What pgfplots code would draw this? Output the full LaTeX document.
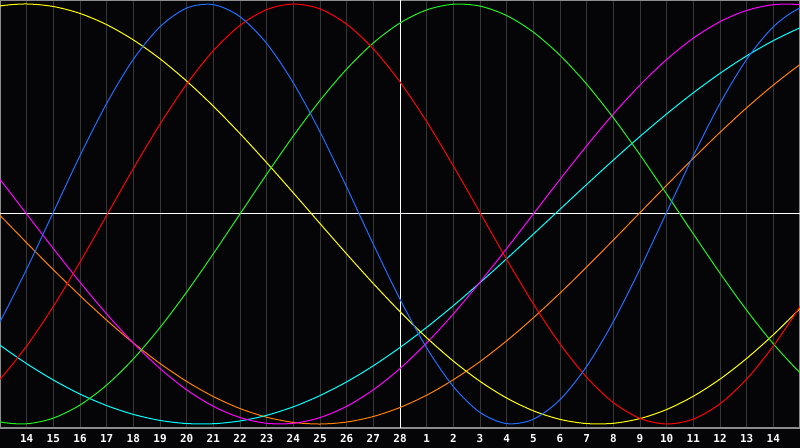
\documentclass[border=0pt]{standalone}
\usepackage{pgfplots}
\usepackage{pgfplotstable}
\pgfplotsset{compat=1.18}
\usepackage{fontspec}
\setmonofont{DejaVu Sans Mono}

\definecolor{bg}{HTML}{050508}
\definecolor{gridgray}{HTML}{363636}
\definecolor{framegray}{HTML}{8C8C8C}
\definecolor{cyellow}{HTML}{FFFF00}
\definecolor{cblue}{HTML}{1E6EFF}
\definecolor{cred}{HTML}{FF0000}
\definecolor{cgreen}{HTML}{22F01E}
\definecolor{cmagenta}{HTML}{FF00FF}
\definecolor{ccyan}{HTML}{00FFFF}
\definecolor{corange}{HTML}{FF8000}

% day index, 15 = today (white line)
\pgfplotstableread{
x  blue    red     green   magenta yellow  orange  cyan
-1 -0.7254 -0.9039 -0.9450  0.3247  0.9601  0.1240 -0.5278
0  -0.5124 -0.7860 -0.9898  0.1646  0.9906 -0.0065 -0.6245
1  -0.2619 -0.6288 -0.9989  0.0000  1.0000 -0.1370 -0.7126
2   0.0082 -0.4399 -0.9718 -0.1646  0.9880 -0.2651 -0.7904
3   0.2777 -0.2291 -0.9096 -0.3247  0.9550 -0.3887 -0.8575
4   0.5265 -0.0067 -0.8146 -0.4759  0.9017 -0.5057 -0.9123
5   0.7365  0.2160 -0.6901 -0.6142  0.8290 -0.6140 -0.9543
6   0.8916  0.4278 -0.5406 -0.7357  0.7390 -0.7118 -0.9829
7   0.9807  0.6183 -0.3717 -0.8372  0.6328 -0.7972 -0.9978
8   0.9971  0.7776 -0.1893 -0.9158  0.5134 -0.8693 -0.9986
9   0.9396  0.8980  0.0000 -0.9694  0.3830 -0.9264 -0.9855
10  0.8122  0.9734  0.1893 -0.9966  0.2445 -0.9676 -0.9585
11  0.6245  1.0000  0.3717 -0.9966  0.1007 -0.9923 -0.9180
12  0.3909  0.9764  0.5406 -0.9694 -0.0454 -1.0000 -0.8646
13  0.1281  0.9039  0.6901 -0.9158 -0.1903 -0.9906 -0.7993
14 -0.1442  0.7862  0.8146 -0.8372 -0.3312 -0.9642 -0.7226
15 -0.4059  0.6287  0.9096 -0.7357 -0.4650 -0.9213 -0.6356
16 -0.6374  0.4400  0.9718 -0.6142 -0.5890 -0.8628 -0.5398
17 -0.8216  0.2290  0.9989 -0.4759 -0.7004 -0.7893 -0.4365
18 -0.9450  0.0068  0.9898 -0.3247 -0.7967 -0.7025 -0.3270
19 -0.9982 -0.2159  0.9450 -0.1646 -0.8763 -0.6038 -0.2129
20 -0.9774 -0.4278  0.8660  0.0000 -0.9371 -0.4944 -0.0959
21 -0.8841 -0.6183  0.7557  0.1646 -0.9779 -0.3766  0.0225
22 -0.7254 -0.7776  0.6182  0.3247 -0.9979 -0.2525  0.1406
23 -0.5125 -0.8980  0.4582  0.4759 -0.9967 -0.1240  0.2567
24 -0.2618 -0.9734  0.2817  0.6142 -0.9741  0.0065  0.3693
25  0.0082 -1.0000  0.0950  0.7357 -0.9309  0.1370  0.4766
26  0.2777 -0.9764 -0.0950  0.8372 -0.8678  0.2651  0.5771
27  0.5265 -0.9039 -0.2817  0.9158 -0.7863  0.3887  0.6698
28  0.7365 -0.7862 -0.4582  0.9694 -0.6877  0.5057  0.7530
29  0.8916 -0.6287 -0.6182  0.9966 -0.5747  0.6140  0.8255
30  0.9807 -0.4400 -0.7557  0.9966 -0.4494  0.7118  0.8864
31  0.9971 -0.2290 -0.8660  0.9694 -0.3145  0.7972  0.9350
}\rhythms

\begin{document}
\begin{tikzpicture}
\fill[bg] (0,-20bp) rectangle (800bp,428bp);
\begin{axis}[
    name=ax, at={(0,0)}, anchor=south west,
    width=800bp, height=428bp, scale only axis,
    xmin=0, xmax=30, ymin=-1.019, ymax=1.019,
    axis background/.style={fill=bg},
    axis line style={framegray, line width=1.5bp},
    xtick={1,...,29},
    xticklabels={14,15,16,17,18,19,20,21,22,23,24,25,26,27,28,1,2,3,4,5,6,7,8,9,10,11,12,13,14},
    ytick=\empty,
    major tick length=0pt,
    xmajorgrids,
    major grid style={gridgray, line width=1bp},
    extra x ticks={15}, extra x tick labels={},
    extra x tick style={grid=major, major grid style={white, line width=1bp}},
    extra y ticks={0}, extra y tick labels={},
    extra y tick style={grid=major, major grid style={white, line width=1bp}},
    xticklabel style={font=\fontsize{11}{13}\selectfont\ttfamily\bfseries,
        text=white, anchor=base, inner sep=0pt, yshift=-14.5bp},
    every axis plot/.append style={line width=1bp, smooth, no markers},
]
\addplot[corange] table[x=x, y=orange] {\rhythms};
\addplot[ccyan] table[x=x, y=cyan] {\rhythms};
\addplot[cmagenta] table[x=x, y=magenta] {\rhythms};
\addplot[cyellow] table[x=x, y=yellow] {\rhythms};
\addplot[cgreen] table[x=x, y=green] {\rhythms};
\addplot[cred] table[x=x, y=red] {\rhythms};
\addplot[cblue] table[x=x, y=blue] {\rhythms};
\end{axis}
\pgfresetboundingbox
\path (ax.south west) ++(0,-20bp) rectangle (ax.north east);
\end{tikzpicture}
\end{document}
